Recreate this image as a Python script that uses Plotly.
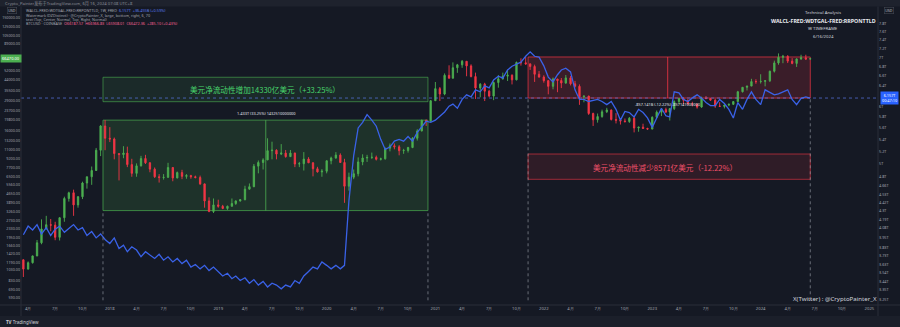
import math
import plotly.graph_objects as go

# ---------------- data ----------------
dates = []
for yr in range(2017, 2025):
    for mo in range(1, 13):
        for dy in (1, 16):
            d = f"{yr}-{mo:02d}-{dy:02d}"
            if "2017-03-16" <= d <= "2024-06-16":
                dates.append(d)

btc_high_2017 = [1260, 1210, 1360, 1850, 2780, 2980, 2800, 2650, 2900, 4350, 4800, 5000, 4400, 5850, 6470, 7900, 11400, 17900, 19800]
btc_low_2017 = [890, 1030, 1160, 1340, 1700, 2280, 2200, 1840, 1830, 2650, 3950, 2980, 3500, 4150, 5100, 5500, 7250, 9700, 10900]
btc_close_2017 = [1040, 1180, 1350, 1750, 2300, 2500, 2480, 1950, 2870, 4200, 4700, 3700, 4350, 5700, 6450, 7300, 10900, 17600, 13800]

btc_high_2018 = [17200, 14000, 10300, 11800, 11700, 9200, 8400, 9750, 9950, 8600, 7750, 6800, 6800, 8500, 7800, 7150, 7400, 6800, 6700, 6600, 6600, 5650, 4300, 4200]
btc_low_2018 = [12800, 9100, 6000, 9300, 7800, 6450, 6450, 7900, 8300, 7050, 6300, 5750, 6100, 6300, 5900, 6250, 6150, 6200, 6200, 6250, 5500, 3500, 3200, 3150]
btc_close_2018 = [13600, 10200, 10000, 10300, 8200, 6900, 8000, 9250, 8500, 7500, 6450, 6350, 6380, 7750, 6300, 7000, 6500, 6600, 6450, 6350, 5600, 4000, 3250, 3700]

btc_high_2019 = [4100, 3700, 3650, 4200, 4050, 4150, 5400, 5650, 8300, 8900, 9300, 13800, 12900, 11100, 12300, 10950, 10950, 10400, 8650, 10500, 9500, 8600, 7850, 7500]
btc_low_2019 = [3500, 3400, 3350, 3580, 3700, 3950, 4050, 5000, 5250, 6900, 7450, 8950, 9100, 9100, 9900, 9400, 9550, 7800, 7800, 7300, 8450, 6500, 7000, 6450]
btc_close_2019 = [3600, 3450, 3600, 3800, 4000, 4100, 5050, 5300, 7950, 8550, 9000, 10800, 10900, 10100, 10300, 9600, 10300, 8300, 8350, 9150, 8500, 7550, 7100, 7200]

btc_high_2020 = [8900, 9600, 10500, 10250, 9200, 7000, 7450, 9450, 10050, 9950, 10400, 9800, 9400, 11450, 12450, 12450, 12050, 11200, 11650, 14100, 16500, 19900, 19950, 29300]
btc_low_2020 = [6900, 8250, 9200, 8500, 3850, 4900, 6150, 6500, 8100, 8650, 9150, 8900, 8900, 9050, 10650, 11100, 9850, 10150, 10400, 11350, 13200, 15800, 17600, 19250]
btc_close_2020 = [8850, 9350, 9900, 8550, 5350, 6400, 6850, 8650, 9350, 9450, 9480, 9100, 9200, 11350, 11900, 11650, 10800, 10850, 11500, 13800, 15950, 19700, 19300, 29000]

btc_high_2021 = [41950, 38000, 49700, 58350, 61800, 60000, 64850, 63500, 59500, 50500, 41000, 41300, 36000, 42300, 48100, 50500, 52900, 48800, 62900, 67000, 69000, 60700, 59100, 52100]
btc_low_2021 = [28800, 28800, 32300, 44900, 45000, 50300, 55500, 47000, 46000, 30000, 31000, 28800, 31000, 29300, 37500, 43900, 42800, 40000, 43300, 58000, 59000, 53300, 42000, 45600]
btc_close_2021 = [36800, 33100, 47900, 45200, 55600, 58900, 63200, 57700, 46700, 37300, 40200, 35000, 31800, 41500, 44700, 47100, 48000, 43800, 61700, 61300, 60000, 57000, 48900, 46300]

btc_high_2022 = [47900, 43500, 45800, 44700, 45400, 48200, 47200, 42900, 40000, 32000, 31900, 22900, 22500, 24300, 25200, 24400, 22700, 20300, 20400, 21000, 21400, 17300, 18400, 17000]
btc_low_2022 = [41400, 32900, 36300, 34300, 37200, 40500, 39200, 37600, 26700, 28100, 21900, 17600, 18800, 20700, 22700, 19600, 18500, 18100, 18800, 18700, 15500, 15700, 16700, 16300]
btc_close_2022 = [43100, 38500, 44500, 43200, 41100, 45500, 40500, 38500, 31300, 31800, 22500, 19900, 21200, 23300, 24100, 20000, 19700, 19400, 19200, 20500, 16900, 17200, 16750, 16550]

btc_high_2023 = [21300, 23900, 24400, 25250, 24900, 29200, 30600, 30900, 29800, 28400, 27400, 31400, 31800, 30400, 30200, 28100, 26700, 27400, 28600, 35200, 37900, 38900, 44700, 44300]
btc_low_2023 = [16500, 20500, 21400, 22750, 19600, 24100, 27300, 27000, 26800, 25900, 24800, 25200, 29800, 28900, 25200, 25700, 24900, 26000, 26600, 28300, 34100, 35500, 38600, 40500]
btc_close_2023 = [20900, 23100, 24300, 23150, 24800, 28500, 30400, 29300, 27200, 27100, 25600, 30500, 30300, 29300, 26100, 25900, 26600, 27000, 28500, 34600, 37800, 38700, 42300, 42250]

btc_high_2024 = [48900, 43600, 52500, 64000, 73800, 71700, 71300, 67200, 67000, 71900, 71900, 66900]
btc_low_2024 = [40700, 38500, 41900, 50600, 59000, 60800, 61000, 59600, 56500, 65000, 65000, 65800]
btc_close_2024 = [42500, 43000, 51900, 61200, 68300, 69700, 63400, 60600, 66200, 67600, 66000, 66470]

btc_first_open = 1250

# WALCL - WDTGAL - RRPONTTLD, trillions USD
liq_2017 = [3.99, 4.10, 4.05, 4.12, 4.00, 4.08, 3.98, 4.06, 4.10, 4.02, 4.07, 4.12, 4.05, 4.08, 3.98, 4.03, 3.95, 4.00, 3.93]
liq_2018 = [3.88, 3.95, 3.82, 3.86, 3.78, 3.84, 3.80, 3.72, 3.78, 3.74, 3.70, 3.75, 3.68, 3.72, 3.66, 3.70, 3.64, 3.68, 3.60, 3.63, 3.58, 3.62, 3.56, 3.60]
liq_2019 = [3.55, 3.50, 3.53, 3.47, 3.50, 3.45, 3.48, 3.42, 3.46, 3.40, 3.44, 3.38, 3.42, 3.40, 3.36, 3.40, 3.38, 3.45, 3.42, 3.50, 3.55, 3.60, 3.58, 3.66]
liq_2020 = [3.62, 3.58, 3.62, 3.58, 3.62, 4.45, 5.13, 5.60, 5.70, 5.84, 5.74, 5.63, 5.40, 5.23, 5.27, 5.37, 5.40, 5.37, 5.45, 5.37, 5.52, 5.63, 5.72, 5.70]
liq_2021 = [5.74, 5.81, 5.89, 6.00, 6.04, 5.96, 6.13, 6.22, 6.18, 6.32, 6.28, 6.40, 6.36, 6.52, 6.60, 6.56, 6.73, 6.81, 6.86, 6.90, 7.03, 7.13, 7.03, 7.01]
liq_2022 = [6.82, 6.58, 6.48, 6.63, 6.73, 6.77, 6.69, 6.32, 6.13, 6.13, 6.09, 6.11, 6.13, 6.09, 6.03, 6.09, 5.94, 5.74, 5.90, 5.88, 5.80, 5.94, 5.88, 5.78]
liq_2023 = [5.61, 5.78, 5.96, 5.82, 5.80, 6.28, 6.26, 6.13, 6.09, 6.16, 6.22, 6.16, 6.07, 6.01, 6.01, 6.13, 6.05, 5.94, 5.78, 6.07, 5.94, 6.13, 6.28, 6.13]
liq_2024 = [6.03, 6.32, 6.26, 6.22, 6.24, 6.28, 6.32, 6.13, 6.03, 6.15, 6.18, 6.157]

# price-range drawings (dates, liquidity levels in T)
green_range_dates = ["2017-12-09", "2020-12-07"]
green_range_levels = [4.3075, 5.74]
green_note_levels = [6.086, 6.577]
red_range_dates = ["2021-11-09", "2024-06-16"]
red_range_levels = [6.157, 7.014]
red_note_levels = [4.757, 5.155]

left_ticks = [150000, 125000, 105000, 89000, 52000, 44000, 35500, 29000, 23700, 19800, 16000, 13200, 11000, 9200, 7700,
              6500, 5560, 4650, 3890, 3260, 2730, 2330, 1950, 1660, 1420, 1190, 1030, 830, 690, 590]
right_ticks = [7.8, 7.6, 7.4, 7.2, 7.0, 6.8, 6.6, 6.4, 6.0, 5.8, 5.6, 5.4, 5.2, 5.0, 4.8, 4.66, 4.53, 4.42, 4.3, 4.19,
               4.08, 3.95, 3.83, 3.73, 3.63, 3.54, 3.44, 3.35, 3.25]
x_tick_dates = []
x_tick_text = []
for yr in range(2017, 2026):
    for mo, lab in ((1, str(yr)), (4, "4月"), (7, "7月"), (10, "10月")):
        d = f"{yr}-{mo:02d}-01"
        if "2017-03-10" <= d <= "2025-01-29":
            x_tick_dates.append(d)
            x_tick_text.append(lab)

# ---------------- assemble ----------------
btc_high = btc_high_2017 + btc_high_2018 + btc_high_2019 + btc_high_2020 + btc_high_2021 + btc_high_2022 + btc_high_2023 + btc_high_2024
btc_low = btc_low_2017 + btc_low_2018 + btc_low_2019 + btc_low_2020 + btc_low_2021 + btc_low_2022 + btc_low_2023 + btc_low_2024
btc_close = btc_close_2017 + btc_close_2018 + btc_close_2019 + btc_close_2020 + btc_close_2021 + btc_close_2022 + btc_close_2023 + btc_close_2024
btc_open = [btc_first_open] + btc_close[:-1]
liquidity = liq_2017 + liq_2018 + liq_2019 + liq_2020 + liq_2021 + liq_2022 + liq_2023 + liq_2024

BG = "#151924"
GREEN = "#4caf50"
RED = "#f23645"
BLUE = "#3a62e8"
TXT = "#a3a6af"
CJK = "Noto Sans CJK SC"

W, H = 900, 327
L, R, T, B = 21, 878, 7, 305


def px(x):
    return (x - L) / (R - L)


def py(y):
    return (B - y) / (B - T)


fig = go.Figure()
fig.add_trace(go.Candlestick(
    x=dates, open=btc_open, high=btc_high, low=btc_low, close=btc_close,
    increasing=dict(line=dict(color=GREEN, width=0.9), fillcolor=GREEN),
    decreasing=dict(line=dict(color=RED, width=0.9), fillcolor=RED),
    whiskerwidth=0, showlegend=False, hoverinfo="skip", yaxis="y"))
fig.add_trace(go.Scatter(
    x=dates, y=liquidity, mode="lines", line=dict(color=BLUE, width=1.3),
    showlegend=False, hoverinfo="skip", yaxis="y2"))

shapes = []
# green range box
g0, g1 = green_range_dates
shapes.append(dict(type="rect", xref="x", yref="y2", x0=g0, x1=g1, y0=green_range_levels[0], y1=green_range_levels[1],
                   fillcolor="rgba(76,175,80,0.17)", line=dict(color="rgba(76,175,80,0.7)", width=1), layer="below"))
shapes.append(dict(type="rect", xref="x", yref="y2", x0=g0, x1=g1, y0=green_note_levels[0], y1=green_note_levels[1],
                   fillcolor="rgba(76,175,80,0.12)", line=dict(color="rgba(76,175,80,0.6)", width=1), layer="below"))
shapes.append(dict(type="line", xref="x", yref="y2", x0="2019-06-10", x1="2019-06-10",
                   y0=green_range_levels[0], y1=green_range_levels[1], line=dict(color="rgba(76,175,80,0.8)", width=1)))
for xd in green_range_dates:
    shapes.append(dict(type="line", xref="x", yref="y2", x0=xd, x1=xd, y0=3.24, y1=green_range_levels[0],
                       line=dict(color="rgba(160,165,175,0.6)", width=1, dash="dot")))
# red range box
r0, r1 = red_range_dates
shapes.append(dict(type="rect", xref="x", yref="y2", x0=r0, x1=r1, y0=red_range_levels[0], y1=red_range_levels[1],
                   fillcolor="rgba(242,54,69,0.17)", line=dict(color="rgba(242,54,69,0.7)", width=1), layer="below"))
shapes.append(dict(type="rect", xref="x", yref="y2", x0=r0, x1=r1, y0=red_note_levels[0], y1=red_note_levels[1],
                   fillcolor="rgba(242,54,69,0.12)", line=dict(color="rgba(242,54,69,0.6)", width=1), layer="below"))
shapes.append(dict(type="line", xref="x", yref="y2", x0="2023-02-22", x1="2023-02-22",
                   y0=red_range_levels[0], y1=red_range_levels[1], line=dict(color="rgba(242,54,69,0.8)", width=1)))
for xd in red_range_dates:
    shapes.append(dict(type="line", xref="x", yref="y2", x0=xd, x1=xd, y0=3.24, y1=red_range_levels[0],
                       line=dict(color="rgba(160,165,175,0.6)", width=1, dash="dot")))
# liquidity price line
shapes.append(dict(type="line", xref="paper", yref="y2", x0=0, x1=1, y0=liquidity[-1], y1=liquidity[-1],
                   line=dict(color="rgba(90,120,230,0.7)", width=1, dash="dot")))
# header / footer bars and scale separators
shapes.append(dict(type="rect", xref="paper", yref="paper", x0=px(0), x1=px(W), y0=py(0), y1=py(6.5),
                   fillcolor="#1e222d", line=dict(width=0), layer="below"))
shapes.append(dict(type="rect", xref="paper", yref="paper", x0=px(0), x1=px(W), y0=py(316), y1=py(H),
                   fillcolor="#1b1f2a", line=dict(width=0), layer="below"))
shapes.append(dict(type="line", xref="paper", yref="paper", x0=px(0), x1=px(W), y0=0, y1=0,
                   line=dict(color="#2a2e39", width=1)))
shapes.append(dict(type="line", xref="paper", yref="paper", x0=0, x1=0, y0=py(6.5), y1=py(316),
                   line=dict(color="#2a2e39", width=1)))
shapes.append(dict(type="line", xref="paper", yref="paper", x0=1, x1=1, y0=py(6.5), y1=py(316),
                   line=dict(color="#2a2e39", width=1)))

ann = []


def text(x, y, s, size=4.5, color=TXT, anchor="left", family="Noto Sans, " + CJK, **kw):
    ann.append(dict(xref="paper", yref="paper", x=px(x), y=py(y), text=s, showarrow=False,
                    xanchor=anchor, yanchor="middle", font=dict(size=size, color=color, family=family), **kw))


text(3, 3.3, "Crypto_Painter发布于TradingView.com, 6月 16, 2024 07:08 UTC+8", size=4.2, color="#8a8d96")
text(24, 11, "WALCL-FRED:WDTGAL-FRED:RRPONTTLD, 1W, FRED  <span style='color:#5b7cf0'>6.157T  +36.455B (+0.59%)</span>", size=3.8)
text(24, 15.3, "Watermark (DZDistinct) · @CryptoPainter_X, large, bottom, right, 6, 70", size=3.8)
text(24, 19.4, "text (Top, Center, Normal, Top, Right, Normal)", size=3.8)
text(24, 23.8, "BTCUSD · COINBASE  <span style='color:#f06292'>O66187.57  H66966.83  L65908.01  C66472.36  +285.10 (+0.43%)</span>", size=3.8)

text(823, 12, "Technical Analysis", size=4.3, color="#d1d4dc", anchor="center")
text(823, 20.5, "<b>WALCL-FRED:WDTGAL-FRED:RRPONTTLD</b>", size=5.3, color="#e8eaef", anchor="center")
text(823, 28.5, "W TIMEFRAME", size=4.3, color="#d1d4dc", anchor="center")
text(823, 35.5, "6/16/2024", size=4.3, color="#d1d4dc", anchor="center")

text(835, 298, "X(Twitter) : @CryptoPainter_X", size=6.1, color="#d1d4dc", anchor="center")
text(4, 321.5, "<b>TV</b> TradingView", size=4.5, color="#d1d4dc")

text(265, 89.5, "美元净流动性增加14330亿美元（+33.25%）", size=7.6, color="#48d46c", anchor="center", family=CJK)
text(665, 167.5, "美元净流动性减少8571亿美元（-12.22%）", size=7.6, color="#f0506a", anchor="center", family=CJK)
text(266, 113.5, "1.433T (33.25%) 1432510000000", size=3.9, color="#e0e3eb", anchor="center")
text(668, 104.3, "-857.141B (-12.22%) -857141000000", size=3.9, color="#e0e3eb", anchor="center")

# scale header boxes
text(12, 11, "USD", size=3.6, color="#c0c3cc", anchor="center", bordercolor="#434651", borderwidth=0.6, borderpad=0.6)
text(889, 11, "USD", size=3.6, color="#c0c3cc", anchor="center", bordercolor="#434651", borderwidth=0.6, borderpad=0.6)

# last value labels on the scales
ann.append(dict(xref="paper", yref="y", x=px(11), y=math.log10(btc_close[-1]), text=f"{btc_close[-1]:.2f}",
                showarrow=False, xanchor="center", yanchor="middle", bgcolor=GREEN, borderpad=1,
                font=dict(size=4, color="#ffffff", family="Noto Sans")))
ann.append(dict(xref="paper", yref="y2", x=px(889), y=math.log10(liquidity[-1]), text=f"{liquidity[-1]:.3f}T<br>00:47:10",
                showarrow=False, xanchor="center", yanchor="middle", bgcolor="#2962ff", borderpad=1,
                font=dict(size=3.8, color="#ffffff", family="Noto Sans")))

fig.update_layout(
    width=W, height=H,
    margin=dict(l=L, r=W - R, t=T, b=H - B),
    paper_bgcolor=BG, plot_bgcolor=BG,
    shapes=shapes, annotations=ann,
    showlegend=False, boxgap=0.5,
    font=dict(family="Noto Sans", color=TXT),
    xaxis=dict(type="date", range=["2017-03-08", "2025-01-30"], rangeslider=dict(visible=False),
               showgrid=False, zeroline=False, showline=False, ticks="",
               tickvals=x_tick_dates, ticktext=x_tick_text, tickfont=dict(size=4.2, color=TXT),
               automargin=False),
    yaxis=dict(type="log", range=[math.log10(511.7), math.log10(184700)], side="left",
               showgrid=False, zeroline=False, showline=False, ticks="",
               tickvals=left_ticks, ticktext=[f"{v:.2f}" for v in left_ticks],
               tickfont=dict(size=3.7, color=TXT), automargin=False),
    yaxis2=dict(type="log", range=[math.log10(3.192), math.log10(8.22)], side="right", overlaying="y",
                showgrid=False, zeroline=False, showline=False, ticks="",
                tickvals=right_ticks,
                ticktext=[(f"{v:g}T" if abs(v * 10 - round(v * 10)) < 1e-9 else f"{v:.2f}T") for v in right_ticks],
                tickfont=dict(size=3.8, color=TXT), automargin=False),
)

fig.write_html("out.html")
